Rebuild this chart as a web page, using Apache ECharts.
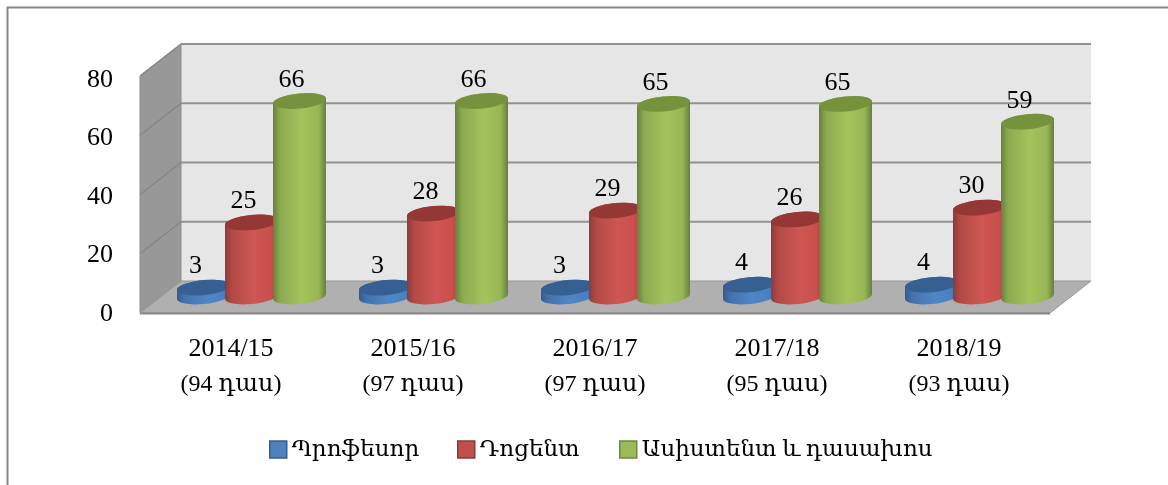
<!DOCTYPE html>
<html><head><meta charset="utf-8">
<style>html,body{margin:0;padding:0;background:#fff}#c{width:1168px;height:485px}</style>
<script src="https://cdn.jsdelivr.net/npm/echarts@6/dist/echarts.min.js"></script>
</head><body><div id="c"></div>
<script>
var categories = ['2014/15\n(94 դաս)', '2015/16\n(97 դաս)', '2016/17\n(97 դաս)', '2017/18\n(95 դաս)', '2018/19\n(93 դաս)'];
var seriesNames = ['Պրոֆեսոր', 'Դոցենտ', 'Ասիստենտ և դասախոս'];
var professor = [3, 3, 3, 4, 4];
var docent = [25, 28, 29, 26, 30];
var assistant = [66, 66, 65, 65, 59];
var yTicks = [0, 20, 40, 60, 80];

var FONT = '"Liberation Serif","DejaVu Serif",serif';
var DX = 41, DY = -32;       // depth of the 3D box
var RX = 26.5, RY = 7.5, TILT = 2.5, ROT = -5.5;
var OFFS = [-48, 0, 48];
var LEGEND_LEFT = [264, 452, 614];

var palettes = [
  {legend:'#4f81bd', border:'#385d8a', top:'#376092', stops:['#335c8f','#4472ab','#4f86c8','#4a80c0','#3d6ba5']},
  {legend:'#c0504d', border:'#8c3836', top:'#953735', stops:['#8f3a38','#b34a47','#cf5653','#c84f4c','#a24240']},
  {legend:'#9bbb59', border:'#71893f', top:'#76923c', stops:['#67803a','#8cab50','#a3c45c','#97b654','#64803a']}
];

function ell(cx, cy) {
  return 'M' + (cx-RX) + ' ' + (cy+TILT) +
    'A' + RX + ' ' + RY + ' ' + ROT + ' 0 1 ' + (cx+RX) + ' ' + (cy-TILT) +
    'A' + RX + ' ' + RY + ' ' + ROT + ' 0 1 ' + (cx-RX) + ' ' + (cy+TILT) + 'Z';
}
function body(cx, ty, by) {
  return 'M' + (cx-RX) + ' ' + (ty+TILT) + 'L' + (cx-RX) + ' ' + (by+TILT) +
    'A' + RX + ' ' + RY + ' ' + ROT + ' 0 0 ' + (cx+RX) + ' ' + (by-TILT) +
    'L' + (cx+RX) + ' ' + (ty-TILT) +
    'A' + RX + ' ' + RY + ' ' + ROT + ' 0 0 ' + (cx-RX) + ' ' + (ty+TILT) + 'Z';
}
function cylinder(idx) {
  var p = palettes[idx];
  var s = p.stops;
  var grad = new echarts.graphic.LinearGradient(0,0,1,0,[
    {offset:0,color:s[0]},{offset:0.14,color:s[1]},{offset:0.55,color:s[2]},{offset:0.86,color:s[3]},{offset:1,color:s[4]}]);
  return function(params, api) {
    var v = api.value(1);
    var a = api.coord([api.value(0), 0]);
    var b = api.coord([api.value(0), v]);
    var cx = a[0] + DX/2 + OFFS[idx];
    var by = a[1] + DY/2 - 0.5;
    var ty = b[1] + DY/2 - 0.5;
    return {type:'group', children:[
      {type:'path', shape:{pathData:body(cx,ty,by)}, style:{fill:grad}},
      {type:'path', shape:{pathData:ell(cx,ty)}, style:{fill:p.top}},
      {type:'text', style:{text:String(v), x:cx-8, y:ty-21, align:'center', verticalAlign:'middle',
        font:'26px '+FONT, fill:'#000'}, z2:20}
    ]};
  };
}
function walls(params, api) {
  var v = api.value(0);
  var f = api.coord([0, v]);
  var left = params.coordSys.x, right = left + params.coordSys.width;
  var children = [];
  if (params.dataIndex === 0) {
    var top = api.coord([0, yTicks[yTicks.length-1]])[1];
    var bot = f[1];
    children.push({type:'polygon', shape:{points:[[left+DX,top+DY],[right+DX,top+DY],[right+DX,bot+DY],[left+DX,bot+DY]]}, style:{fill:'#e6e6e6'}});
    children.push({type:'polygon', shape:{points:[[left,top],[left+DX,top+DY],[left+DX,bot+DY],[left,bot]]}, style:{fill:'#989898',stroke:'#8c8c8c',lineWidth:1}});
    children.push({type:'polygon', shape:{points:[[left,bot],[left+DX,bot+DY],[right+DX,bot+DY],[right,bot]]}, style:{fill:'#b0b0b0',stroke:'#969696',lineWidth:1}});
    children.push({type:'line', shape:{x1:left,y1:bot+0.5,x2:right,y2:bot+0.5}, style:{stroke:'#888888',lineWidth:2}});
  } else {
    children.push({type:'line', shape:{x1:left+DX,y1:f[1]+DY,x2:right+DX,y2:f[1]+DY}, style:{stroke:'#929292',lineWidth:2}});
    children.push({type:'line', shape:{x1:left,y1:f[1],x2:left+DX,y2:f[1]+DY}, style:{stroke:'#868686',lineWidth:1.5}});
  }
  return {type:'group', children:children};
}
function zipped(arr){ return arr.map(function(v,i){ return [i,v]; }); }

var chart = echarts.init(document.getElementById('c'), null, {renderer:'canvas'});
var data = [professor, docent, assistant];
chart.setOption({
  animation:false,
  backgroundColor:'#fff',
  grid:[{left:140, right:118, top:76, bottom:172, containLabel:false},
        {left:140, right:118, top:80, bottom:171, containLabel:false}],
  xAxis:[{type:'category', data:categories, axisLine:{show:false}, axisTick:{show:false},
    axisLabel:{margin:19, interval:0,
      formatter:function(s){ var p = s.split('\n'); return '{a|'+p[0]+'}\n{b|'+p[1]+'}'; },
      rich:{a:{fontFamily:FONT, fontSize:26, color:'#000', lineHeight:35},
            b:{fontFamily:FONT, fontSize:24, color:'#000', lineHeight:35}}}},
    {type:'category', gridIndex:1, show:false, data:categories}],
  yAxis:[{type:'value', min:0, max:80, interval:20, show:false, splitLine:{show:false}},
    {type:'value', gridIndex:1, min:0, max:80, interval:20, splitLine:{show:false}, axisLine:{show:false}, axisTick:{show:false},
     axisLabel:{fontFamily:FONT, fontSize:26, color:'#000', margin:27}}],
  legend:seriesNames.map(function(n,i){
    return {left:LEGEND_LEFT[i], top:433, itemWidth:17, itemHeight:17, itemGap:0, icon:'rect', selectedMode:false,
      textStyle:{fontFamily:FONT, fontSize:23, color:'#000'},
      data:[{name:n, itemStyle:{color:palettes[i].legend,borderColor:palettes[i].border,borderWidth:1.5}}]};
  }),
  graphic:[{type:'polyline', silent:true, shape:{points:[[7.5,485],[7.5,7.5],[1168,7.5]]}, style:{stroke:'#868686',lineWidth:2,fill:null}}],
  series:[{type:'custom', silent:true, z:1, coordinateSystem:'cartesian2d', renderItem:walls, encode:{y:0}, data:yTicks.map(function(t){return [t];}), legendHoverLink:false}]
    .concat(seriesNames.map(function(n,i){
      return {type:'custom', name:n, z:5+i, coordinateSystem:'cartesian2d', renderItem:cylinder(i),
        itemStyle:{color:palettes[i].legend}, encode:{x:0,y:1}, data:zipped(data[i])};
    }))
});
</script></body></html>
